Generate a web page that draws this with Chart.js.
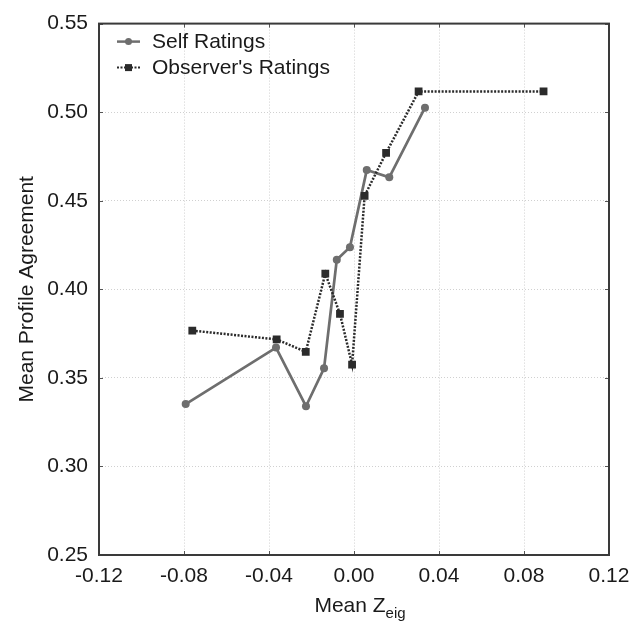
<!DOCTYPE html>
<html><head><meta charset="utf-8">
<script src="https://cdn.jsdelivr.net/npm/chart.js@4/dist/chart.umd.min.js"></script>
<style>
html,body{margin:0;padding:0;background:#fff;}
#wrap{position:relative;width:643px;height:630px;}
#xt{position:absolute;left:360px;top:593px;font-family:'Liberation Sans',Arial,sans-serif;font-size:21px;line-height:24px;color:#1a1a1a;white-space:nowrap;transform:translateX(-50%);}
#xt sub{font-size:15px;vertical-align:-6px;line-height:0;}
</style></head><body>
<div id="wrap"><canvas id="c" width="643" height="630"></canvas><div id="xt">Mean Z<sub>eig</sub></div></div>
<script>
const seriesNames = ["Self Ratings", "Observer's Ratings"];
const selfX = [-0.0792, -0.0367, -0.0226, -0.0141, -0.0081, -0.0019, 0.0060, 0.0166, 0.0334];
const selfY = [0.3352, 0.3671, 0.3340, 0.3554, 0.4167, 0.4238, 0.4673, 0.4632, 0.5025];
const obsX = [-0.0761, -0.0364, -0.0227, -0.0135, -0.0066, -0.0009, 0.0050, 0.0151, 0.0304, 0.0892];
const obsY = [0.3767, 0.3717, 0.3647, 0.4089, 0.3861, 0.3575, 0.4528, 0.4770, 0.5117, 0.5117];
const xTicks = [-0.12, -0.08, -0.04, 0.00, 0.04, 0.08, 0.12];
const yTicks = [0.25, 0.30, 0.35, 0.40, 0.45, 0.50, 0.55];

const FONT = "'Liberation Sans', Arial, sans-serif";
const selfColor = '#6e6e6e';
const obsColor = '#2b2b2b';

const frame = {
  id: 'frame',
  afterDraw(chart) {
    const {ctx, chartArea: a, scales} = chart;
    ctx.save();
    ctx.strokeStyle = '#555';
    ctx.lineWidth = 1;
    const t = 4;
    ctx.beginPath();
    scales.x.ticks.forEach(tk => {
      const px = Math.round(scales.x.getPixelForValue(tk.value)) + 0.5;
      ctx.moveTo(px, a.top); ctx.lineTo(px, a.top + t);
      ctx.moveTo(px, a.bottom); ctx.lineTo(px, a.bottom - t);
    });
    scales.y.ticks.forEach(tk => {
      const py = Math.round(scales.y.getPixelForValue(tk.value)) + 0.5;
      ctx.moveTo(a.left, py); ctx.lineTo(a.left + t, py);
      ctx.moveTo(a.right, py); ctx.lineTo(a.right - t, py);
    });
    ctx.stroke();
    ctx.strokeStyle = '#3a3a3a';
    ctx.lineWidth = 2;
    ctx.strokeRect(a.left, a.top, a.right - a.left, a.bottom - a.top);

    // legend
    const items = [
      {label: chart.data.datasets[1].label, y: a.top + 18, color: selfColor, dash: [], shape: 'circle', lw: 2.5},
      {label: chart.data.datasets[0].label, y: a.top + 44, color: obsColor, dash: [2, 1.5], shape: 'rect', lw: 2}
    ];
    items.forEach(it => {
      ctx.strokeStyle = it.color;
      ctx.lineWidth = it.lw;
      ctx.setLineDash(it.dash);
      ctx.beginPath(); ctx.moveTo(a.left + 18, it.y); ctx.lineTo(a.left + 41, it.y); ctx.stroke();
      ctx.setLineDash([]);
      ctx.fillStyle = it.color;
      if (it.shape === 'circle') { ctx.beginPath(); ctx.arc(a.left + 29.5, it.y, 3.5, 0, Math.PI * 2); ctx.fill(); }
      else { ctx.fillRect(a.left + 26, it.y - 3.5, 7, 7); }
      ctx.fillStyle = '#1a1a1a';
      ctx.font = '21px ' + FONT;
      ctx.textBaseline = 'middle';
      ctx.textAlign = 'left';
      ctx.fillText(it.label, a.left + 53, it.y + 1);
    });
    ctx.restore();
  }
};

new Chart(document.getElementById('c'), {
  type: 'line',
  data: {
    datasets: [
      {
        label: seriesNames[1],
        data: obsX.map((x, i) => ({x, y: obsY[i]})),
        borderColor: obsColor, backgroundColor: obsColor,
        borderWidth: 2.5, borderDash: [2, 1.5],
        pointStyle: 'rect', pointRadius: 5.5, pointBorderWidth: 0,
        pointBackgroundColor: obsColor, tension: 0, order: 0
      },
      {
        label: seriesNames[0],
        data: selfX.map((x, i) => ({x, y: selfY[i]})),
        borderColor: selfColor, backgroundColor: selfColor,
        borderWidth: 2.7,
        pointStyle: 'circle', pointRadius: 4, pointBorderWidth: 0,
        pointBackgroundColor: selfColor, tension: 0, order: 1
      }
    ]
  },
  options: {
    responsive: false,
    animation: false,
    events: [],
    layout: {padding: {top: 17, right: 34, left: 0, bottom: 0}},
    plugins: {legend: {display: false}, tooltip: {enabled: false}},
    scales: {
      x: {
        type: 'linear', min: -0.12, max: 0.12,
        afterFit(s) { s.height = 75; },
        afterBuildTicks(s) { s.ticks = xTicks.map(v => ({value: v})); },
        ticks: {padding: 9, color: '#1a1a1a', font: {family: FONT, size: 21}, maxRotation: 0,
          callback: v => Number(v).toFixed(2)},
        grid: {color: '#d0d0d0', lineWidth: 1, drawTicks: false},
        border: {display: false, dash: [1, 2]}
      },
      y: {
        type: 'linear', min: 0.25, max: 0.55,
        afterFit(s) { s.width = 99; },
        afterBuildTicks(s) { s.ticks = yTicks.map(v => ({value: v})); },
        ticks: {padding: 11, color: '#1a1a1a', font: {family: FONT, size: 21},
          callback: v => Number(v).toFixed(2)},
        grid: {color: '#d0d0d0', lineWidth: 1, drawTicks: false},
        border: {display: false, dash: [1, 2]},
        title: {display: true, text: 'Mean Profile Agreement', color: '#1a1a1a',
          font: {family: FONT, size: 21}, padding: {top: 15, bottom: 0}}
      }
    }
  },
  plugins: [frame]
});
</script>
</body></html>
